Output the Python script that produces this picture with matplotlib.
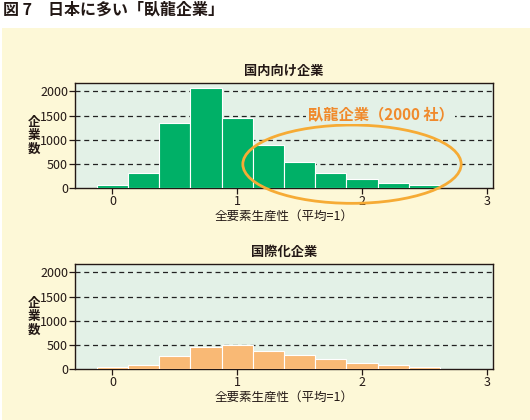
import matplotlib
matplotlib.use("Agg")
import matplotlib.pyplot as plt
from matplotlib.patches import Ellipse, Rectangle
import numpy as np

plt.rcParams['font.family'] = ['Noto Sans CJK JP', 'DejaVu Sans']

# bin centres (TFP, mean = 1) and firm counts
bin_centers = [0.0, 0.25, 0.5, 0.75, 1.0, 1.25, 1.5, 1.75, 2.0, 2.25, 2.5]
domestic = [58, 323, 1354, 2062, 1457, 900, 545, 315, 190, 108, 68]
international = [40, 82, 268, 468, 494, 370, 288, 205, 123, 84, 40]
titles = ['国内向け企業', '国際化企業']
yticks = [0, 500, 1000, 1500, 2000]
xticks = [0, 1, 2, 3]

panel_bg = '#fdf8d7'
axes_bg = '#e3f1e7'
green = '#00b067'
orange_bar = '#f9b975'
ring = '#f6ab35'
label_orange = '#f08a2c'

fig = plt.figure(figsize=(5.3, 4.2), dpi=100, facecolor='white')
fig.patches.append(Rectangle((2 / 530, 0), 1, (420 - 28) / 420,
                             transform=fig.transFigure, facecolor=panel_bg,
                             edgecolor='none', zorder=-10))

fig.text(3 / 530, 1 - 10 / 420, '図 7　日本に多い「臥龍企業」', fontsize=11.5,
         fontweight='bold', color='#231815', va='center', ha='left')

ax1 = fig.add_axes([75 / 530, 1 - 188.3 / 420, 418 / 530, 105.3 / 420])
ax2 = fig.add_axes([75 / 530, 1 - 369.3 / 420, 418 / 530, 105.3 / 420])

for ax, vals, col, title in [(ax1, domestic, green, titles[0]),
                             (ax2, international, orange_bar, titles[1])]:
    ax.set_facecolor(axes_bg)
    ax.bar(bin_centers, vals, width=0.25, color=col, edgecolor='white',
           linewidth=0.8, zorder=3)
    ax.set_xlim(-0.3, 3.05)
    ax.set_ylim(0, 2170)
    ax.set_xticks(xticks)
    ax.set_yticks(yticks)
    for y in yticks[1:]:
        ax.axhline(y, color='#222222', linewidth=0.9, linestyle=(0, (4, 3)),
                   zorder=1)
    ax.tick_params(direction='out', length=4, width=0.9, pad=1,
                   labelsize=9, colors='#231815')
    for s in ax.spines.values():
        s.set_color('#231815')
        s.set_linewidth(1.0)
    ax.set_title(title, fontsize=9.5, fontweight='bold', color='#231815',
                 pad=6)
    ax.set_xlabel('全要素生産性（平均=1）', fontsize=9, color='#231815',
                  labelpad=1)
    ax.text(-0.098, 0.5, '企\n業\n数', transform=ax.transAxes, fontsize=9,
            fontweight='bold', color='#231815', ha='center', va='center',
            linespacing=1.05)

ell = Ellipse((1.92, 497), 1.75, 1614, fill=False, edgecolor=ring,
              linewidth=2, clip_on=False, zorder=5)
ax1.add_patch(ell)
ax1.text(2.15, 1515, '臥龍企業（2000 社）', fontsize=11, fontweight='bold',
         color=label_orange, ha='center', va='center', zorder=6,
         bbox=dict(facecolor=axes_bg, edgecolor='none', pad=1))

fig.savefig('out.png', dpi=100, facecolor=fig.get_facecolor())
